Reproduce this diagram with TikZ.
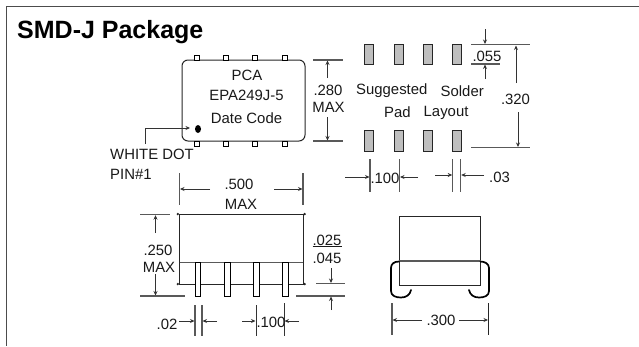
\documentclass[tikz,border=0pt]{standalone}
\usepackage{fontspec}
\setmainfont{Liberation Sans}
\usetikzlibrary{arrows.meta}
\tikzset{
 lbl/.style={inner sep=0pt,font=\fontsize{14.9}{16}\selectfont,text=black!90},
 dim/.style={draw=black!80,line width=0.9pt,-{Stealth[length=4.5pt,width=4pt]}},
 ext/.style={draw=black!65,line width=1.1pt},
 bodyline/.style={draw=black!85,line width=1pt},
 pad/.style={draw=black!85,fill=black!25,line width=0.75pt},
 leadtop/.style={draw=black,fill=white,line width=0.9pt},
 jlead/.style={draw=black,line width=1.7pt,line cap=round},
 tip/.style={fill=black!85},
}
\begin{document}
\begin{tikzpicture}[x=1pt,y=-1pt]
\useasboundingbox (0,0) rectangle (639,346);
\draw[black!70,line width=1.2pt] (639,6.5) -- (6.5,6.5) -- (6.5,346);
\node[anchor=base west,inner sep=0pt,font=\bfseries\fontsize{25}{28}\selectfont] (title) at (17,38) {SMD-J Package};
% chip top view
\draw[bodyline,rounded corners=6pt] (182,60) rectangle (305,141);
\foreach \x in {197,226,255,285}{
 \draw[leadtop] (\x-2.5,55) rectangle (\x+2.5,60);
 \draw[leadtop] (\x-2.5,141) rectangle (\x+2.5,146);
}
\node[lbl] (pca) at (247,75.5) {PCA};
\node[lbl] (epa) at (246.5,95.5) {EPA249J-5};
\node[lbl] (dc) at (246.5,118) {Date Code};
\fill[black] (198,129) ellipse (3pt and 4pt);
\draw[dim] (145,144) -- (145,128) -- (190,128);
\node[lbl,anchor=west] (wd) at (110,154.5) {WHITE DOT};
\node[lbl,anchor=west] (pin) at (110,174.5) {PIN\#1};
% .280
\draw[ext] (313,60) -- (343,60);
\draw[ext] (313,141) -- (343,141);
\draw[dim] (327.5,78) -- (327.5,60.5);
\draw[dim] (327.5,117) -- (327.5,140.5);
\node[lbl] (d280) at (328,90) {.280};
\node[lbl] (max1) at (328.5,107) {MAX};
% pads
\foreach \x in {364.5,394,423,452.5}{
 \draw[pad] (\x,44.5) rectangle (\x+9,64);
 \draw[pad] (\x,130.5) rectangle (\x+9,151);
}
\node[lbl,anchor=west] (sug) at (356,91) {Suggested};
\node[lbl,anchor=west] (sol) at (440.5,91) {Solder};
\node[lbl,anchor=west] (padt) at (384,112.5) {Pad};
\node[lbl,anchor=west] (lay) at (423.5,112.5) {Layout};
% .055
\draw[ext] (471,44.5) -- (530,44.5);
\draw[ext] (471,64) -- (500,64);
\draw[dim] (485,29) -- (485,44);
\draw[dim] (485,79) -- (485,64.5);
\node[lbl] (d055) at (487,56) {.055};
% .320
\draw[ext] (471,147.5) -- (530,147.5);
\draw[dim] (516,83) -- (516,45.5);
\draw[dim] (518,112) -- (518,147);
\node[lbl] (d320) at (515.5,99) {.320};
% pad pitch
\foreach \x in {370,399.5,452.7,460.7}{\draw[ext] (\x,159) -- (\x,192);}
\draw[dim] (345,177) -- (369.5,177);
\draw[dim] (418,177) -- (400,177);
\node[lbl] (d100a) at (385,178) {.100};
\draw[dim] (435,175) -- (452.2,175);
\draw[dim] (484,175) -- (461.2,175);
\node[lbl,anchor=west] (d03) at (489,177) {.03};
% .500
\draw[ext] (179.5,173) -- (179.5,205);
\draw[ext] (303,173) -- (303,205);
\draw[dim] (210,189) -- (180,189);
\draw[dim] (274,189) -- (302.5,189);
\node[lbl] (d500) at (239,184) {.500};
\node[lbl] (max2) at (241,204) {MAX};
% front view
\draw[bodyline] (179.5,214) rectangle (303,284);
\draw[ext] (179.5,262.5) -- (303,262.5);
\foreach \x/\y in {177.8/214,304.7/214,177.8/284,304.7/284}{\fill[tip] (\x,\y) circle (1.3pt);}
\foreach \x in {224,253,282}{\draw[leadtop] (\x+.3,262.5) rectangle (\x+6,296);}
\draw[leadtop] (195,262.5) rectangle (200.5,296);
% .250
\draw[ext] (140,214.7) -- (170,214.7);
\draw[ext] (140,296) -- (185,296);
\draw[dim] (155.5,233) -- (155.5,215.2);
\draw[dim] (155.5,274) -- (155.5,295.5);
\node[lbl] (d250) at (158,250) {.250};
\node[lbl] (max3) at (159,267) {MAX};
% .025/.045
\node[lbl] (d025) at (327,241) {\underline{.025}};
\node[lbl] (d045) at (327,258) {.045};
\draw[ext] (316,283.7) -- (345,283.7);
\draw[ext] (296,296) -- (345,296);
\draw[dim] (331,268) -- (331,283);
\draw[dim] (331,310) -- (331,296.5);
% .02
\foreach \x in {195,202}{\draw[ext] (\x,305) -- (\x,336);}
\draw[dim] (179,321) -- (194.5,321);
\draw[dim] (217,321) -- (202.5,321);
\node[lbl] (d02) at (167,324) {.02};
% .100
\draw[black!80,line width=.9pt] (256,305) -- (256,336);
\draw[black!80,line width=.9pt] (284,303) -- (284,336);
\draw[dim] (242,321) -- (255.5,321);
\draw[dim] (299,321) -- (284.5,321);
\node[lbl] (d100b) at (271,322) {.100};
% side view
\draw[bodyline] (399,216.5) rectangle (480.5,285);
\draw[ext] (399,261) -- (480.5,261);
\draw[jlead] (399,261.5) .. controls (394,261.5) and (391,264) .. (391,268) -- (391,291) .. controls (391,296) and (396,297.5) .. (401,297.5) .. controls (406,297.5) and (410,295) .. (411,290);
\draw[jlead] (480.5,261.5) .. controls (485,261.5) and (489,264) .. (489,268) -- (489,291) .. controls (489,296) and (484,297.5) .. (479,297.5) .. controls (474,297.5) and (470,295) .. (469,290);
% .300
\draw[ext] (392,303) -- (392,335);
\draw[black!85,line width=.9pt] (488.5,303) -- (488.5,335);
\draw[dim] (422,320) -- (392.5,320);
\draw[dim] (459,320) -- (488,320);
\node[lbl] (d300) at (441,320) {.300};
\end{tikzpicture}
\end{document}
